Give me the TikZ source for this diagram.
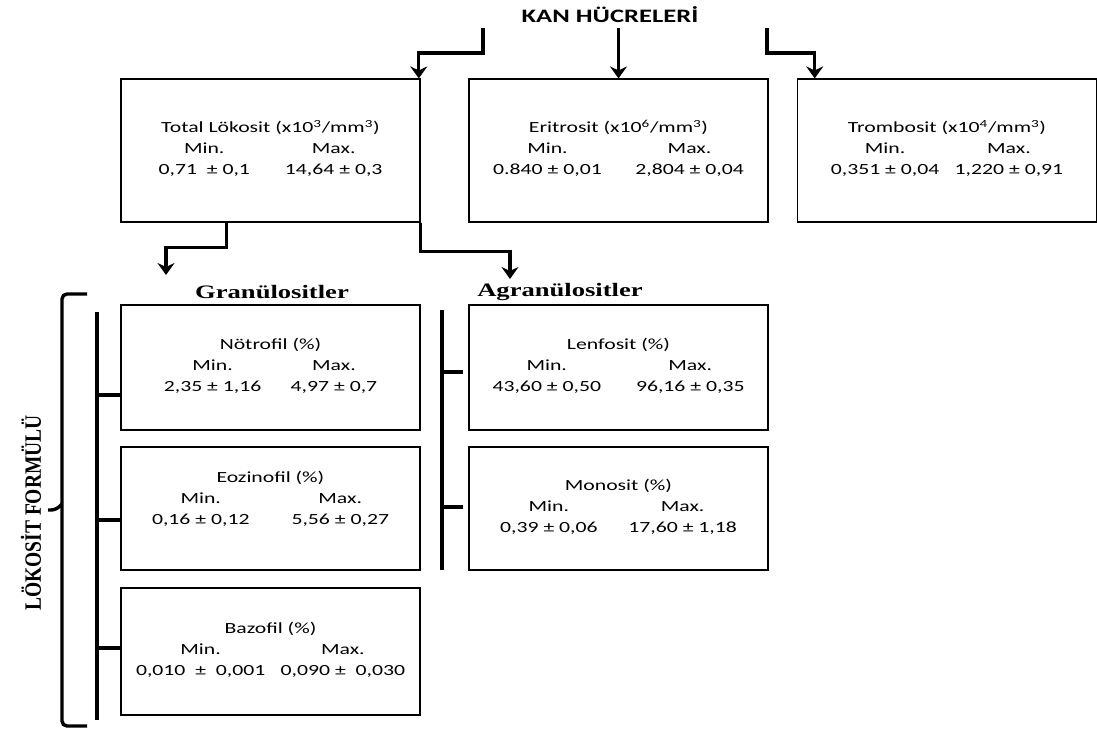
\documentclass[tikz,border=0pt]{standalone}
\usepackage{fontspec}
\setmainfont{Carlito}
\newfontfamily\serifhead{Liberation Serif}
\usetikzlibrary{arrows.meta}

\tikzset{
  cellbox/.style={draw, line width=1.1pt, xscale=1.4, minimum width=213.6pt, inner sep=0pt, align=center, font=\fontsize{15.5}{21}\selectfont},
  flowarrow/.style={line width=3.4pt, -{Stealth[length=12pt,width=17pt,inset=4pt]}},
  busline/.style={line width=3.4pt},
  grouptitle/.style={xscale=1.4, inner sep=0pt, font=\serifhead\bfseries\fontsize{19}{22}\selectfont},
}
% title, min, max, gap between the two columns
\newcommand{\cellinfo}[4]{#1\\\begin{tabular}[t]{@{}c@{\hspace{#4}}c@{}}Min. & Max.\\#2 & #3\end{tabular}}

\begin{document}
\begin{tikzpicture}[x=1pt,y=1pt,yscale=-1,xscale=1]
                \useasboundingbox (0,0) rectangle (1097,733);

                % Text Node
                \node [xscale=1.4, inner sep=0pt, font=\bfseries\fontsize{19}{22}\selectfont] (kan) at (610,15) {KAN HÜCRELERİ};

                %Shape: Rectangle (top row)
                \node [cellbox, minimum height=143pt] (tot) at (270.5,150.5) {\cellinfo{Total Lökosit (x10\textsuperscript{3}/mm\textsuperscript{3})}{0,71 \ ± 0,1}{14,64 ± 0,3}{25pt}};
                \node [cellbox, minimum height=143pt] (eri) at (618.5,150.5) {\cellinfo{Eritrosit (x10\textsuperscript{6}/mm\textsuperscript{3})}{0.840 ± 0,01}{2,804 ± 0,04}{24pt}};
                \node [cellbox, minimum height=143pt] (tro) at (947,150.5) {\cellinfo{Trombosit (x10\textsuperscript{4}/mm\textsuperscript{3})}{0,351 ± 0,04}{1,220 ± 0,91}{11pt}};

                %Shape: Rectangle (granulocytes)
                \node [cellbox, minimum height=125pt] (noe) at (270.5,367.5) {\cellinfo{Nötrofil (\%)}{2,35 ± 1,16}{4,97 ± 0,7}{21pt}};
                \node [cellbox, minimum height=123pt] (eoz) at (270.5,508.5) {\cellinfo{Eozinofil (\%)}{0,16 ± 0,12}{5,56 ± 0,27}{30pt}\\[14pt]};
                \node [cellbox, minimum height=127pt] (baz) at (270.5,651.5) {\cellinfo{Bazofil (\%)}{0,010 \ ± \ 0,001}{0,090 ± \ 0,030}{11pt}};

                %Shape: Rectangle (agranulocytes)
                \node [cellbox, minimum height=125pt] (len) at (618.5,367.5) {\cellinfo{Lenfosit (\%)}{43,60 ± 0,50}{96,16 ± 0,35}{25pt}};
                \node [cellbox, minimum height=123pt] (mon) at (618.5,508.5) {\cellinfo{Monosit (\%)}{0,39 ± 0,06}{17,60 ± 1,18}{22pt}};

                % Text Node
                \node [grouptitle] (gran) at (272,292) {Granülositler};
                % Text Node
                \node [grouptitle] (agran) at (560,292) {Agranülositler};
                % Text Node
                \node [rotate=90, yscale=1.2, inner sep=0pt, font=\serifhead\bfseries\fontsize{19.5}{22}\selectfont] (lform) at (31,513) {LÖKOSİT FORMÜLÜ};

                %Straight Lines (arrows from the title)
                \coordinate (kanL) at (483,28);
                \coordinate (kanR) at (767,28);
                \draw [flowarrow] (kanL) -- ++(0,25) -| ([xshift=-2pt]tot.north east);
                \draw [flowarrow] (eri.north |- kanL) -- (eri.north);
                \draw [flowarrow] (kanR) -- ++(0,25) -| ([xshift=18pt]tro.north west);

                %Straight Lines (arrows to the two groups)
                \coordinate (granTip) at (166,275);
                \coordinate (agranTip) at (510,279);
                \draw [flowarrow] ([xshift=-44pt]tot.south) -- ++(0,25) -| (granTip);
                \draw [flowarrow] (tot.south east) -- ++(0,29) -| (agranTip);

                %Shape: Bracket
                \draw [busline, rounded corners=5pt] (87,294) -- (62,294) -- (62,726) -- (87,726);
                \draw [busline, rounded corners=5pt] (48,510) -- (56,510) -- (62,504);

                %Straight Lines (granulocyte bus)
                \draw [busline] (97,312) -- (97,720);
                \coordinate (tNoe) at (97,395);
                \coordinate (tEoz) at (97,520);
                \coordinate (tBaz) at (97,648);
                \draw [busline] (tNoe) -- (tNoe -| noe.west);
                \draw [busline] (tEoz) -- (tEoz -| eoz.west);
                \draw [busline] (tBaz) -- (tBaz -| baz.west);

                %Straight Lines (agranulocyte bus)
                \draw [busline] (442,310) -- (442,570);
                \coordinate (tLen) at (442,372);
                \coordinate (tMon) at (442,507);
                \draw [busline] (tLen) -- ++(21,0);
                \draw [busline] (tMon) -- ++(21,0);

            \end{tikzpicture}
\end{document}
